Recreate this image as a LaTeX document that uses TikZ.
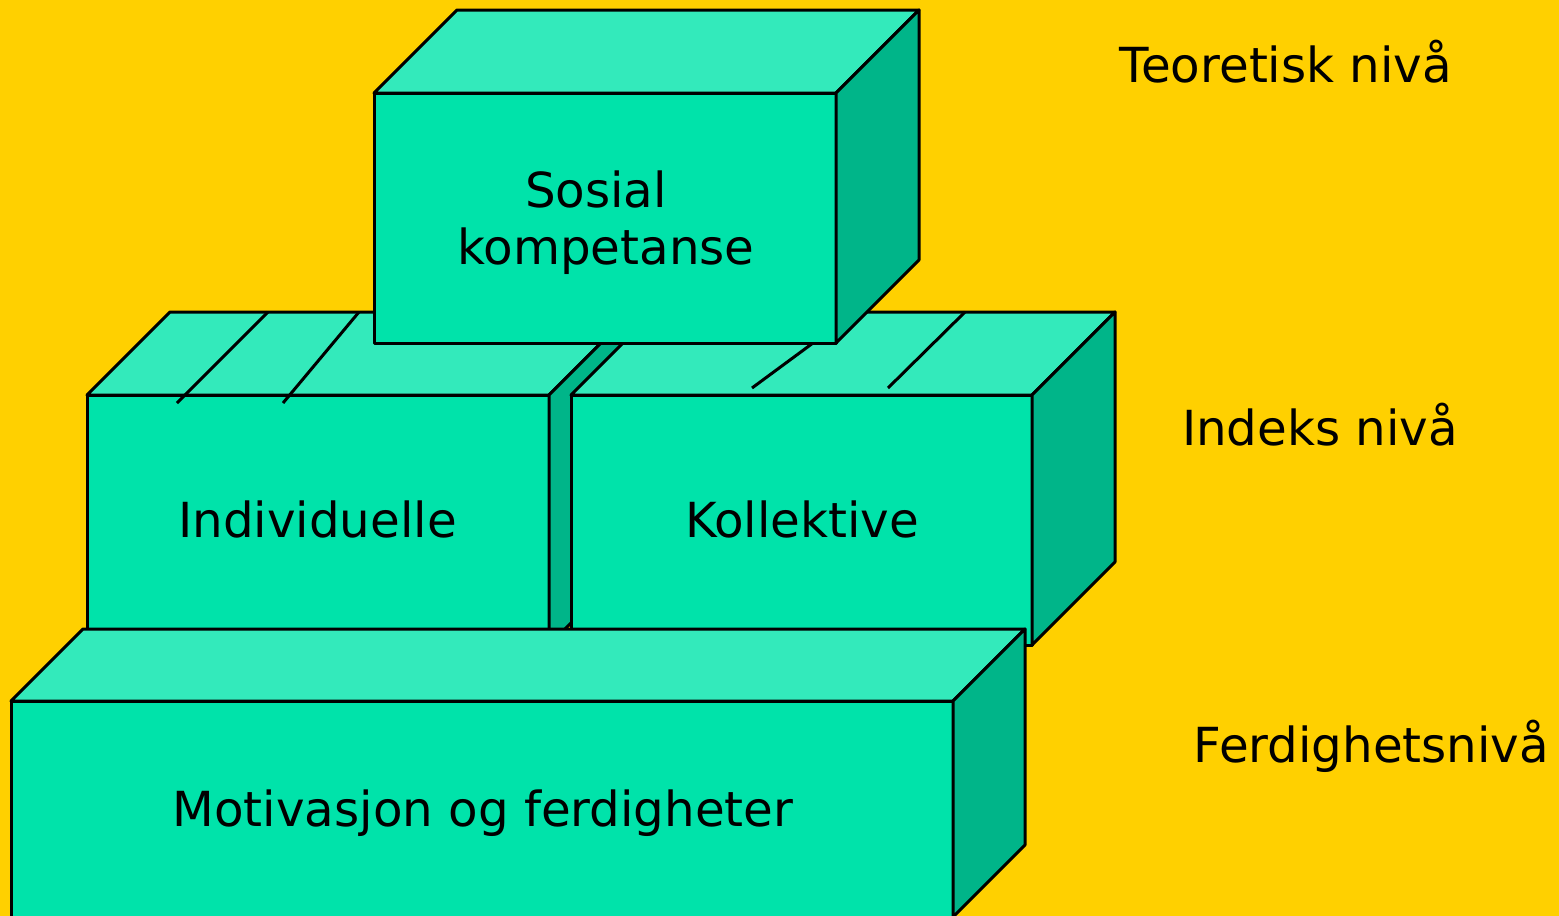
\documentclass[tikz,border=0pt]{standalone}
\usepackage{fontspec}
\setmainfont{DejaVu Sans}
\definecolor{bg}{RGB}{255,208,0}
\definecolor{frontc}{RGB}{0,227,170}
\definecolor{topc}{RGB}{51,234,187}
\definecolor{sidec}{RGB}{0,181,137}
\newcommand\mycuboid[5]{% x y w h d (front top-left, pixels, y down)
  \fill[frontc,draw=black] (#1,#2) rectangle ++(#3,#4);
  \filldraw[fill=topc,draw=black] (#1,#2) -- ++(#5,-#5) -- ++(#3,0) -- ++(-#5,#5) -- cycle;
  \filldraw[fill=sidec,draw=black] (#1+#3,#2) -- ++(#5,-#5) -- ++(0,#4) -- ++(-#5,#5) -- cycle;
}
\begin{document}
\begin{tikzpicture}[x=1pt,y=-1pt,line width=3pt,line join=round,
  lbl/.style={font=\fontsize{48.3}{57}\selectfont,anchor=base,inner sep=0pt}]
\useasboundingbox (0,0) rectangle (1559,916);
\fill[bg] (0,0) rectangle (1559,916);
\clip (0,0) rectangle (1559,916);
% Individuelle
\mycuboid{87}{395}{462}{250}{83}
\draw (177,403) -- (268,312);
\draw (283,403) -- (359,312);
% Kollektive
\mycuboid{571}{395}{461}{250}{83}
\draw (752,388) -- (813,343);
\draw (888,388) -- (965,312);
% Sosial kompetanse
\mycuboid{374}{93}{462}{250}{83}
% Motivasjon og ferdigheter
\mycuboid{11}{701}{942}{216}{72}
% labels
\node[lbl] (sos1) at (596,207) {Sosial};
\node[lbl] (sos2) at (606,264) {kompetanse};
\node[lbl] (ind) at (317.5,537) {Individuelle};
\node[lbl] (kol) at (802,537) {Kollektive};
\node[lbl] (mot) at (483,826) {Motivasjon og ferdigheter};
\node[lbl] (teo) at (1286,82) {Teoretisk nivå};
\node[lbl] (idx) at (1320,445) {Indeks nivå};
\node[lbl] (fer) at (1371.5,762) {Ferdighetsnivå};
\end{tikzpicture}
\end{document}
